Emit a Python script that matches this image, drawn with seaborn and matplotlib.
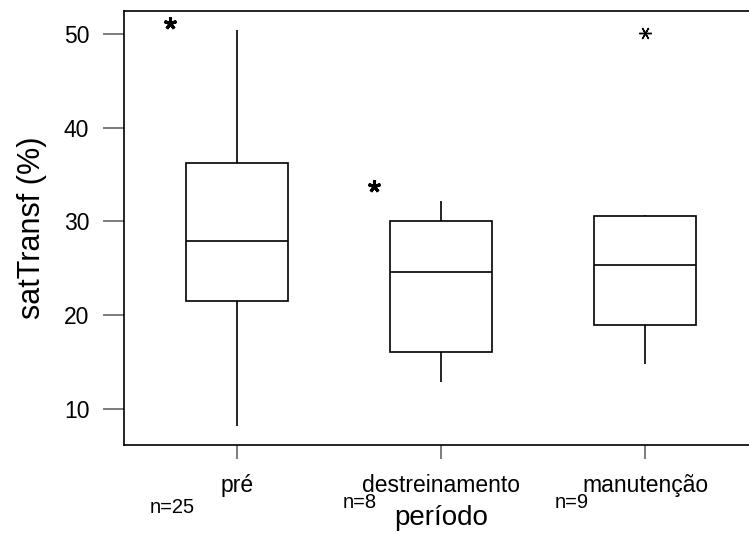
import numpy as np
import matplotlib
matplotlib.use("Agg")
import matplotlib.pyplot as plt
import matplotlib.transforms as mtransforms
import pandas as pd
import seaborn as sns

# data (five-number summary per group)
periodos = ["pré", "destreinamento", "manutenção"]
n_obs = [25, 8, 9]
whisker_low = [8.2, 12.9, 14.8]
quartil_1 = [21.5, 16.05, 19.0]
mediana = [27.9, 24.6, 25.4]
quartil_3 = [36.25, 30.1, 30.55]
whisker_high = [50.4, 32.2, 30.7]

# points drawn outside the boxes
outlier_text_vals = [51.2, 33.8, None]   # bold "*" next to the box
outlier_marker_vals = [None, None, 50.1]  # asterisk marker on the box axis

# build a long table; with 5 points np.percentile gives q1/med/q3 exactly
rows = []
for i, p in enumerate(periodos):
    for v in [whisker_low[i], quartil_1[i], mediana[i], quartil_3[i], whisker_high[i]]:
        rows.append({"período": p, "satTransf": v})
df = pd.DataFrame(rows)

sns.set_theme(style="white")
plt.rcParams["font.family"] = ["Liberation Sans", "DejaVu Sans"]
plt.rcParams["text.color"] = "black"
plt.rcParams["axes.labelcolor"] = "black"
plt.rcParams["xtick.color"] = "black"
plt.rcParams["ytick.color"] = "black"

fig = plt.figure(figsize=(7.49, 5.34), dpi=100)
ax = fig.add_axes([0.1656, 0.1667, 0.84, 0.8127])

sns.boxplot(
    data=df, x="período", y="satTransf", order=periodos,
    color="white", linecolor="black", linewidth=1.2, width=0.5,
    whis=(0, 100), showfliers=False,
    capprops={"visible": False}, ax=ax,
)

# outliers
pos = np.arange(len(periodos))
for i in pos:
    if outlier_text_vals[i] is not None:
        ax.plot(i - 0.33, outlier_text_vals[i], marker=(5, 2, 0), color="black",
                markersize=9, markeredgewidth=2.2, linestyle="none")
    if outlier_marker_vals[i] is not None:
        ax.plot(i, outlier_marker_vals[i], marker=(6, 2, 90), color="black",
                markersize=9, markeredgewidth=1.0, linestyle="none")

ax.set_xlim(-0.554, 2.53)
ax.set_ylim(6.16, 52.45)
ax.set_yticks([10, 20, 30, 40, 50])

for side in ["top", "left", "bottom", "right"]:
    ax.spines[side].set_color("black")
    ax.spines[side].set_linewidth(1.2)

ax.tick_params(axis="y", length=15, width=1.2, color="#666666", pad=10,
               labelsize=16.5, left=True, labelcolor="black")
ax.tick_params(axis="x", length=10, width=1.2, color="#666666", pad=11,
               labelsize=16.5, bottom=True, labelcolor="black")

ax.set_ylabel("satTransf (%)", fontsize=22, labelpad=12)
ax.set_xlabel("período", fontsize=20)
ax.xaxis.set_label_coords(0.504, -0.138)

# sample sizes under the tick labels
trans = mtransforms.blended_transform_factory(ax.transData, ax.transAxes)
n_dx = [-0.32, -0.40, -0.36]
n_y = [-0.143, -0.132, -0.132]
for i, n in enumerate(n_obs):
    ax.text(i + n_dx[i], n_y[i], f"n={n}", transform=trans, fontsize=14.5,
            ha="center", va="center")

fig.savefig("out.png", dpi=100)
